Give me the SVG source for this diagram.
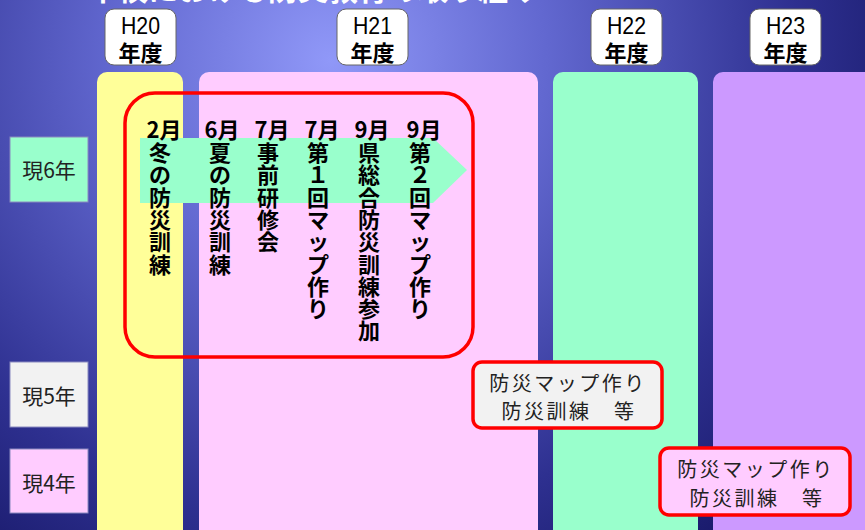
<svg xmlns="http://www.w3.org/2000/svg" width="865" height="530" viewBox="0 0 865 530">
<defs>
<radialGradient id="bg" gradientUnits="userSpaceOnUse" cx="330" cy="60" r="720">
<stop offset="0" stop-color="#9098f8"/>
<stop offset="0.3" stop-color="#6268d0"/>
<stop offset="0.65" stop-color="#2e3090"/>
<stop offset="1" stop-color="#0a0a50"/>
</radialGradient>
<style>
.hdr{fill:#fff;stroke:#666;stroke-width:1}
.hy{font-family:"Liberation Sans",sans-serif;font-size:24px;fill:#000;text-anchor:middle}
.hn{font-family:"Noto Sans CJK JP",sans-serif;font-size:22px;font-weight:700;fill:#000;text-anchor:middle}
.lbl{stroke:#8a8ac0;stroke-width:1}
.lt{font-family:"Noto Sans CJK JP",sans-serif;font-size:21px;fill:#222;text-anchor:middle}
.vt{font-family:"Noto Sans CJK JP",sans-serif;font-size:22px;font-weight:700;fill:#000;text-anchor:middle}
.red{fill:none;stroke:#ff0000;stroke-width:3.5}
.box{stroke:#ff0000;stroke-width:3.5}
.bt{font-family:"Noto Sans CJK JP",sans-serif;font-size:20px;fill:#222;text-anchor:middle;letter-spacing:2.5px}
.title{font-family:"Noto Sans CJK JP",sans-serif;font-size:30px;font-weight:700;fill:#fff}
</style>
</defs>
<rect x="0" y="0" width="865" height="530" fill="url(#bg)"/>
<text class="title" x="88" y="0">本校における防災教育の取り組み</text>

<g id="col-h20"><rect x="97" y="72" width="86" height="480" rx="10" fill="#ffff99"/></g>
<g id="col-h21"><rect x="199" y="72" width="339" height="480" rx="10" fill="#ffccff"/></g>
<g id="col-h22"><rect x="553" y="72" width="145" height="480" rx="10" fill="#99ffcc"/></g>
<g id="col-h23"><rect x="713" y="72" width="170" height="480" rx="10" fill="#cc99ff"/></g>

<g id="hdr-h20"><rect class="hdr" x="105" y="9" width="71" height="56" rx="9"/><text class="hy" x="140.5" y="34" textLength="39" lengthAdjust="spacingAndGlyphs">H20</text><text class="hn" x="140.5" y="61">年度</text></g>
<g id="hdr-h21"><rect class="hdr" x="337" y="9" width="71" height="56" rx="9"/><text class="hy" x="372.5" y="34" textLength="39" lengthAdjust="spacingAndGlyphs">H21</text><text class="hn" x="372.5" y="61">年度</text></g>
<g id="hdr-h22"><rect class="hdr" x="591" y="9" width="71" height="56" rx="9"/><text class="hy" x="626.5" y="34" textLength="39" lengthAdjust="spacingAndGlyphs">H22</text><text class="hn" x="626.5" y="61">年度</text></g>
<g id="hdr-h23"><rect class="hdr" x="750" y="9" width="71" height="56" rx="9"/><text class="hy" x="785.5" y="34" textLength="39" lengthAdjust="spacingAndGlyphs">H23</text><text class="hn" x="785.5" y="61">年度</text></g>

<g id="lbl-6"><rect class="lbl" x="10" y="137" width="78" height="65" fill="#99ffcc"/><text class="lt" x="49" y="178">現6年</text></g>
<g id="lbl-5"><rect class="lbl" x="10" y="362" width="78" height="65" fill="#f2f2f2"/><text class="lt" x="49" y="404">現5年</text></g>
<g id="lbl-4"><rect class="lbl" x="10" y="449" width="78" height="64" fill="#ffccff"/><text class="lt" x="49" y="491">現4年</text></g>

<g id="connectors">
<path id="timeline-arrow" d="M140,138 H433 L467,170 L433,203 H140 Z" fill="#99ffcc"/>
</g>

<g id="group-h21-6"><rect class="red" x="125" y="93" width="348" height="264" rx="30"/></g>

<g id="ev-1"><text class="vt"><tspan x="164" y="138">2月</tspan><tspan x="160" y="161">冬</tspan><tspan x="160" y="183.3">の</tspan><tspan x="160" y="205.6">防</tspan><tspan x="160" y="227.9">災</tspan><tspan x="160" y="250.2">訓</tspan><tspan x="160" y="272.5">練</tspan></text></g>
<g id="ev-2"><text class="vt"><tspan x="222" y="138">6月</tspan><tspan x="220" y="161">夏</tspan><tspan x="220" y="183.3">の</tspan><tspan x="220" y="205.6">防</tspan><tspan x="220" y="227.9">災</tspan><tspan x="220" y="250.2">訓</tspan><tspan x="220" y="272.5">練</tspan></text></g>
<g id="ev-3"><text class="vt"><tspan x="272" y="138">7月</tspan><tspan x="268" y="161">事</tspan><tspan x="268" y="183.3">前</tspan><tspan x="268" y="205.6">研</tspan><tspan x="268" y="227.9">修</tspan><tspan x="268" y="250.2">会</tspan></text></g>
<g id="ev-4"><text class="vt"><tspan x="322" y="138">7月</tspan><tspan x="318" y="161">第</tspan><tspan x="318" y="183.3">１</tspan><tspan x="318" y="205.6">回</tspan><tspan x="318" y="227.9">マ</tspan><tspan x="318" y="250.2">ッ</tspan><tspan x="318" y="272.5">プ</tspan><tspan x="318" y="294.8">作</tspan><tspan x="318" y="317.1">り</tspan></text></g>
<g id="ev-5"><text class="vt"><tspan x="372" y="138">9月</tspan><tspan x="369" y="161">県</tspan><tspan x="369" y="183.3">総</tspan><tspan x="369" y="205.6">合</tspan><tspan x="369" y="227.9">防</tspan><tspan x="369" y="250.2">災</tspan><tspan x="369" y="272.5">訓</tspan><tspan x="369" y="294.8">練</tspan><tspan x="369" y="317.1">参</tspan><tspan x="369" y="339.4">加</tspan></text></g>
<g id="ev-6"><text class="vt"><tspan x="424" y="138">9月</tspan><tspan x="420" y="161">第</tspan><tspan x="420" y="183.3">２</tspan><tspan x="420" y="205.6">回</tspan><tspan x="420" y="227.9">マ</tspan><tspan x="420" y="250.2">ッ</tspan><tspan x="420" y="272.5">プ</tspan><tspan x="420" y="294.8">作</tspan><tspan x="420" y="317.1">り</tspan></text></g>

<g id="box-5"><rect class="box" x="473" y="362" width="189" height="66" rx="9" fill="#f2f2f2"/><text class="bt" x="568" y="391">防災マップ作り</text><text class="bt" x="569" y="419">防災訓練　等</text></g>
<g id="box-4"><rect class="box" x="660" y="448" width="190" height="67" rx="9" fill="#ffccff"/><text class="bt" x="756" y="477">防災マップ作り</text><text class="bt" x="757" y="506">防災訓練　等</text></g>
</svg>
